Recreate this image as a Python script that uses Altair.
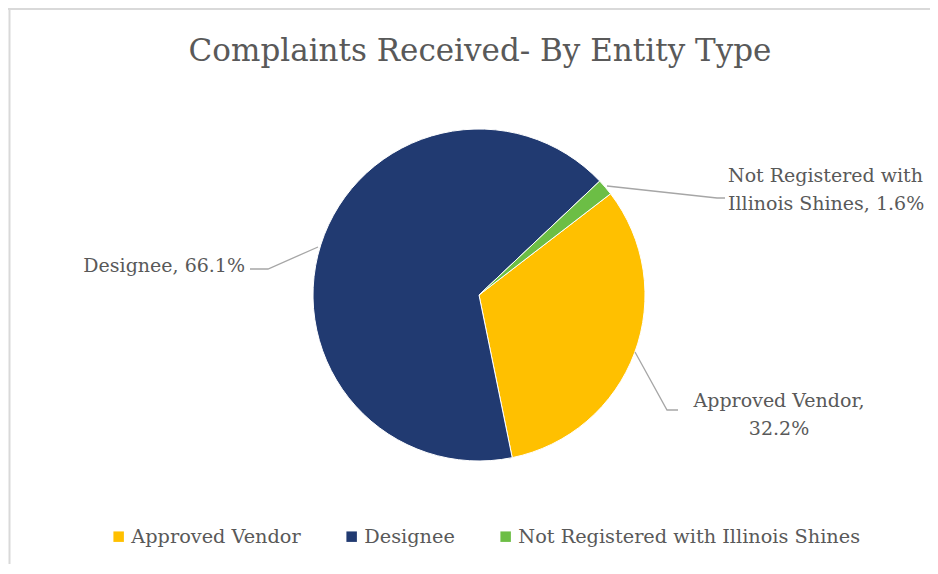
import math
import altair as alt
import pandas as pd

# ---- data ----
categories = ["Approved Vendor", "Designee", "Not Registered with Illinois Shines"]
shares = [32.2, 66.1, 1.6]
colors = ["#FFC000", "#213A71", "#6CBE45"]
title_text = "Complaints Received- By Entity Type"
label_lines = [["Approved Vendor,", "32.2%"], ["Designee, 66.1%"], ["Not Registered with", "Illinois Shines, 1.6%"]]

# ---- layout (plot-area pixels) ----
W, H = 922, 556
CX, CY, R = 471, 287, 166
START = 0.915
FONT = "DejaVu Serif"
TXT = "#595959"
label_pos = [(771, 399, "center"), (237, 264, "right"), (720, 174, "left")]
line_h = 28
leaders = [
    [(627, 344), (659, 402), (670, 402)],
    [(310, 239), (260, 261), (242, 261)],
    [(599, 178), (709, 190), (717, 190)],
]

pie_df = pd.DataFrame({"category": categories, "share": shares, "idx": range(len(categories))})

lab_rows = []
for cat, lines, (lx, ly, al) in zip(categories, label_lines, label_pos):
    for i, t in enumerate(lines):
        lab_rows.append({"category": cat, "text": t, "px": lx, "py": ly + i * line_h, "align": al})
lab_df = pd.DataFrame(lab_rows)

lead_rows = []
for cat, pts in zip(categories, leaders):
    for j, (px, py) in enumerate(pts):
        lead_rows.append({"category": cat, "px": px, "py": py, "o": j})
lead_df = pd.DataFrame(lead_rows)

border = alt.Chart(pd.DataFrame({"k": [0]})).mark_rule(color="#d9d9d9", strokeWidth=2)
border_left = border.encode(x=alt.value(1.5), y=alt.value(0), y2=alt.value(H))
border_top = border.encode(x=alt.value(0), x2=alt.value(W), y=alt.value(1))

title = alt.Chart(pd.DataFrame({"t": [title_text]})).mark_text(
    font=FONT, fontSize=31, color=TXT, align="center", baseline="alphabetic"
).encode(text="t:N", x=alt.value(472), y=alt.value(53))

pie = alt.Chart(pie_df).mark_arc(radius=R, stroke="white", strokeWidth=1).encode(
    theta=alt.Theta("share:Q", stack=True, scale=alt.Scale(range=[START, START + 2 * math.pi])),
    color=alt.Color(
        "category:N",
        scale=alt.Scale(domain=categories, range=colors),
        legend=alt.Legend(
            orient="none", legendX=101, legendY=519, direction="horizontal", title=None,
            symbolType="square", symbolSize=110, symbolStrokeWidth=0,
            labelFont=FONT, labelFontSize=19.3, labelColor=TXT, labelOffset=3,
            columnPadding=41, labelLimit=500,
        ),
    ),
    order=alt.Order("idx:Q"),
    x=alt.value(CX),
    y=alt.value(CY),
)

lead = alt.Chart(lead_df).mark_line(color="#a6a6a6", strokeWidth=1.3).encode(
    x=alt.X("px:Q", scale=None),
    y=alt.Y("py:Q", scale=None),
    detail="category:N",
    order="o:Q",
)

def lab_layer(al):
    return alt.Chart(lab_df[lab_df["align"] == al]).mark_text(
        font=FONT, fontSize=19, color=TXT, align=al, baseline="alphabetic"
    ).encode(x=alt.X("px:Q", scale=None), y=alt.Y("py:Q", scale=None), text="text:N")

chart = alt.layer(
    border_left, border_top, title, pie, lead,
    lab_layer("center"), lab_layer("right"), lab_layer("left"),
).properties(width=W, height=H, padding=0, autosize="none").configure_view(stroke=None)

chart.save("out.html", embed_options={"renderer": "svg", "actions": False})
